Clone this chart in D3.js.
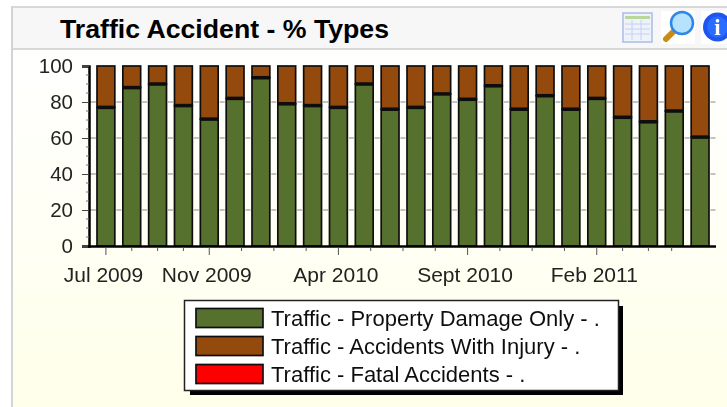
<!DOCTYPE html>
<html><head><meta charset="utf-8">
<style>html,body{margin:0;padding:0;background:#fff;overflow:hidden}svg{display:block}text{font-family:"Liberation Sans",Arial,sans-serif}</style>
<script src="https://cdnjs.cloudflare.com/ajax/libs/d3/7.8.5/d3.min.js"></script>
</head><body><svg id="c" width="727" height="407"></svg>
<script>
const title = "Traffic Accident - % Types";
const months = ["Jul 2009","Aug 2009","Sep 2009","Oct 2009","Nov 2009","Dec 2009","Jan 2010","Feb 2010","Mar 2010","Apr 2010","May 2010","Jun 2010","Jul 2010","Aug 2010","Sept 2010","Oct 2010","Nov 2010","Dec 2010","Jan 2011","Feb 2011","Mar 2011","Apr 2011","May 2011","Jun 2011"];
const shownLabels = ["Jul 2009","Nov 2009","Apr 2010","Sept 2010","Feb 2011"];
const labelIdx = [0,4,9,14,19];
const minorIdx = [1,2,3,5.25,6.5,7.75,10.25,11.5,12.75,15.25,16.5,17.75,20,21,21.9];
const propertyDamage = [77,88,90,78,70.5,82,93.5,79,78,77,90,76,77,84.5,81.5,89,76,83.5,76,82,71.5,69,75,60.5];
const withInjury = [23,12,10,22,29.5,18,6.5,21,22,23,10,24,23,15.5,18.5,11,24,16.5,24,18,28.5,31,25,39.5];
const fatal = [0,0,0,0,0,0,0,0,0,0,0,0,0,0,0,0,0,0,0,0,0,0,0,0];
const seriesNames = ["Traffic - Property Damage Only - .","Traffic - Accidents With Injury - .","Traffic - Fatal Accidents - ."];
const seriesColors = ["#566f2e","#94480f","#ff0000"];
const yTicks = [0,20,40,60,80,100];
const yMinor = [5,10,15,25,30,35,45,50,55,65,70,75,85,90,95];

const svg = d3.select("#c");
const defs = svg.append("defs");
const g = defs.append("linearGradient").attr("id","bg").attr("x1",0).attr("y1",0).attr("x2",0).attr("y2",1);
g.append("stop").attr("offset","0%").attr("stop-color","#ffffff");
g.append("stop").attr("offset","55%").attr("stop-color","#fffff4");
g.append("stop").attr("offset","100%").attr("stop-color","#ffffea");
defs.append("filter").attr("id","soft").append("feGaussianBlur").attr("stdDeviation",0.4);
defs.append("filter").attr("id","soft2").append("feGaussianBlur").attr("stdDeviation",0.7);

// panel
svg.append("rect").attr("x",12).attr("y",49).attr("width",715).attr("height",358).attr("fill","url(#bg)");
svg.append("rect").attr("x",12).attr("y",7).attr("width",715).attr("height",42).attr("fill","#f7f7f7");
svg.append("rect").attr("x",12).attr("y",6).attr("width",715).attr("height",2).attr("fill","#d8d8d8");
svg.append("rect").attr("x",12).attr("y",48).attr("width",715).attr("height",2).attr("fill","#d8d8d8");
svg.append("rect").attr("x",11).attr("y",6).attr("width",2).attr("height",401).attr("fill","#d4d4d8");
svg.append("text").attr("x",60).attr("y",38).attr("font-size",26.5).attr("font-weight","bold").attr("fill","#000")
  .attr("textLength",329).attr("lengthAdjust","spacingAndGlyphs").text(title);

// icons
const ic = svg.append("g").attr("filter","url(#soft)");
ic.append("rect").attr("x",623).attr("y",13).attr("width",29).attr("height",29).attr("fill","#eef2fb").attr("stroke","#a9bde6").attr("stroke-width",1.5);
ic.append("rect").attr("x",625).attr("y",16).attr("width",25).attr("height",3).attr("fill","#b9d79a");
[24,29,34].forEach(y=>ic.append("line").attr("x1",625).attr("x2",650).attr("y1",y).attr("y2",y).attr("stroke","#c4d2f0"));
[632,641].forEach(x=>ic.append("line").attr("x1",x).attr("x2",x).attr("y1",20).attr("y2",40).attr("stroke","#c4d2f0"));
ic.append("rect").attr("x",661).attr("y",11).attr("width",34).attr("height",33).attr("fill","#fff");
ic.append("line").attr("x1",666).attr("y1",39).attr("x2",674).attr("y2",31).attr("stroke","#c98a12").attr("stroke-width",6).attr("stroke-linecap","round");
ic.append("circle").attr("cx",682).attr("cy",23).attr("r",11).attr("fill","#b5e2fc").attr("stroke","#2f86e8").attr("stroke-width",2.5);
ic.append("rect").attr("x",701).attr("y",11).attr("width",26).attr("height",33).attr("fill","#fff");
ic.append("circle").attr("cx",717.5).attr("cy",27).attr("r",14.5).attr("fill","#1f55f0");
ic.append("circle").attr("cx",717.5).attr("cy",27).attr("r",10.5).attr("fill","#2b6cff");
ic.append("text").attr("x",717.5).attr("y",35).attr("text-anchor","middle").attr("font-size",23).attr("font-weight","bold").attr("fill","#fff").style("font-family","'Liberation Serif',serif").text("i");

// scales
const x = d3.scaleBand().domain(months).range([93,713]).paddingInner(0.31).paddingOuter(0.155);
const y = d3.scaleLinear().domain([0,100]).range([246,66]);
const xi = d3.scaleLinear().domain([0,23]).range([x(months[0])+x.bandwidth()/2, x(months[23])+x.bandwidth()/2]);
const plot = svg.append("g").attr("filter","url(#soft)");

// grid: visible only as short dashes in the gaps between bars
const gridY = yTicks.filter(d=>d>0&&d<100);
const gaps = months.map((m,i)=>i);
gridY.forEach(v=>{
  plot.append("g").selectAll("line").data(gaps).join("line")
    .attr("x1",i=>x(months[i])+x.bandwidth()+1.5).attr("x2",i=>x(months[i])+x.step()-1.5)
    .attr("y1",y(v)).attr("y2",y(v)).attr("stroke","#9a9a9a").attr("stroke-width",1.2);
  plot.append("line").attr("x1",89).attr("x2",x(months[0])).attr("y1",y(v)).attr("y2",y(v)).attr("stroke","#9a9a9a").attr("stroke-width",1.2);
});

// stacked bars
const table = months.map((m,i)=>({month:m,a:propertyDamage[i],b:withInjury[i],c:fatal[i]}));
const stack = d3.stack().keys(["a","b","c"])(table);
plot.append("g").selectAll("g").data(stack).join("g").attr("fill",(d,i)=>seriesColors[i])
  .selectAll("rect").data(d=>d.filter(p=>p[1]>p[0])).join("rect")
  .attr("x",d=>x(d.data.month)).attr("width",x.bandwidth())
  .attr("y",d=>y(d[1])).attr("height",d=>y(d[0])-y(d[1]))
  .attr("stroke","#111").attr("stroke-width",1.7);
// heavier divider between stacked segments
plot.append("g").selectAll("line").data(table).join("line")
  .attr("x1",d=>x(d.month)).attr("x2",d=>x(d.month)+x.bandwidth())
  .attr("y1",d=>y(d.a)).attr("y2",d=>y(d.a)).attr("stroke","#0b0b0b").attr("stroke-width",3.5);

// axes
const ya = d3.axisLeft(y).tickValues(yTicks).tickSize(7).tickPadding(9);
const yg = plot.append("g").attr("transform","translate(89,0)").call(ya);
yg.select(".domain").attr("stroke","#000").attr("stroke-width",2.5);
yg.selectAll(".tick line").attr("stroke","#444");
yg.selectAll("text").attr("font-size",20.5).attr("fill","#222").style("font-family","'Liberation Sans',Arial,sans-serif");
plot.append("g").selectAll("line").data(yMinor).join("line")
  .attr("x1",86).attr("x2",89).attr("y1",d=>y(d)).attr("y2",d=>y(d)).attr("stroke","#777");

const xg = plot.append("g");
xg.append("line").attr("x1",88).attr("x2",716).attr("y1",246.5).attr("y2",246.5).attr("stroke","#000").attr("stroke-width",2.5);
xg.selectAll("line.maj").data(labelIdx).join("line").attr("class","maj")
  .attr("x1",xi).attr("x2",xi).attr("y1",247).attr("y2",255).attr("stroke","#555");
xg.selectAll("line.min").data(minorIdx).join("line").attr("class","min")
  .attr("x1",xi).attr("x2",xi).attr("y1",247).attr("y2",251).attr("stroke","#555");
xg.selectAll("text").data(labelIdx).join("text")
  .attr("x",d=>xi(d)-2.5).attr("y",282).attr("text-anchor","middle").attr("font-size",21)
  .attr("fill","#222").text((d,i)=>shownLabels[i]);

// legend
const lg = svg.append("g");
lg.append("rect").attr("x",190).attr("y",306).attr("width",433).attr("height",89).attr("fill","#000").attr("filter","url(#soft2)");
const lgi = lg.append("g").attr("filter","url(#soft)");
lgi.append("rect").attr("x",184.5).attr("y",300.5).attr("width",434).attr("height",90).attr("fill","#fff").attr("stroke","#222").attr("stroke-width",1.5);
const rows = lgi.selectAll("g.r").data(seriesNames).join("g").attr("class","r").attr("transform",(d,i)=>`translate(0,${308.5+i*28})`);
rows.append("rect").attr("x",196).attr("y",0).attr("width",67).attr("height",19).attr("fill",(d,i)=>seriesColors[i]).attr("stroke","#111").attr("stroke-width",1.7);
rows.append("text").attr("x",271).attr("y",17.5).attr("font-size",22).attr("fill","#111").text(d=>d);
</script></body></html>
